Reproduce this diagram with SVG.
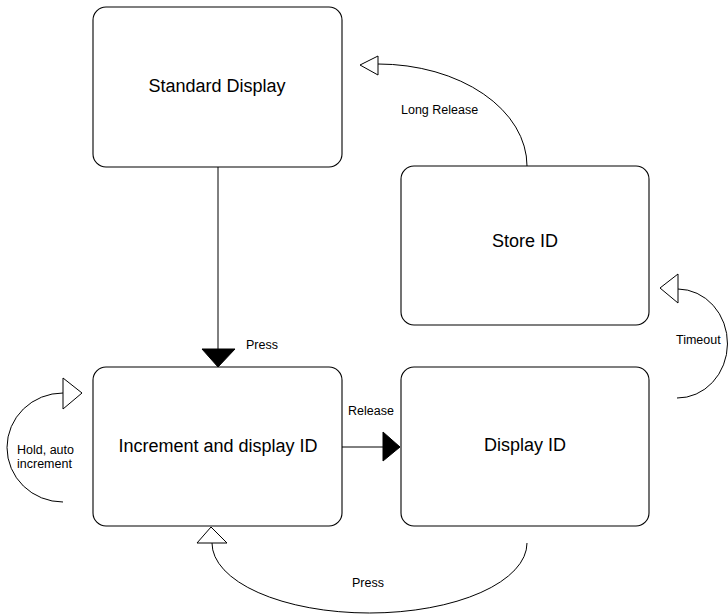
<svg xmlns="http://www.w3.org/2000/svg" width="728" height="616" viewBox="0 0 728 616">
<style>
.box{fill:#fff;stroke:#000;stroke-width:1.1}
.big{font-family:"Liberation Sans",Arial,sans-serif;font-size:18px;fill:#000;text-anchor:middle}
.lbl{font-family:"Liberation Sans",Arial,sans-serif;font-size:12.5px;fill:#000}
.ln{fill:none;stroke:#000;stroke-width:1}
.open{fill:#fff;stroke:#000;stroke-width:1}
.solid{fill:#000;stroke:#000;stroke-width:1}
</style>
<rect width="728" height="616" fill="#fff"/>
<g id="standard-display">
<rect class="box" x="93" y="7" width="249" height="160" rx="13"/>
<text class="big" x="217" y="92">Standard Display</text>
</g>
<g id="store-id">
<rect class="box" x="401" y="166" width="248" height="159" rx="13"/>
<text class="big" x="525" y="247">Store ID</text>
</g>
<g id="increment">
<rect class="box" x="93" y="367" width="249" height="159" rx="13"/>
<text class="big" x="218" y="452">Increment and display ID</text>
</g>
<g id="display-id">
<rect class="box" x="401" y="367" width="248" height="159" rx="13"/>
<text class="big" x="525" y="451">Display ID</text>
</g>
<g id="connectors">
<line class="ln" x1="218" y1="167" x2="218" y2="349"/>
<polygon class="solid" points="202,349 235,349 218,367"/>
<text class="lbl" x="246" y="349">Press</text>
<line class="ln" x1="342" y1="447" x2="383" y2="447"/>
<polygon class="solid" points="383,432 383,461 400,447"/>
<text class="lbl" x="348" y="415">Release</text>
<path class="ln" d="M527,166 A149,102 0 0 0 378,64"/>
<polygon class="open" points="360,65 378,56 378,75"/>
<text class="lbl" x="401" y="114">Long Release</text>
<path class="ln" d="M677,398 A50,54.5 0 0 0 678,289"/>
<polygon class="open" points="660,288 678,274 678,303"/>
<text class="lbl" x="676" y="344">Timeout</text>
<path class="ln" d="M63,393 A56,54.5 0 0 0 63,502"/>
<polygon class="open" points="82,393 63,378 63,409"/>
<text class="lbl" x="17" y="454">Hold, auto</text>
<text class="lbl" x="17" y="468">increment</text>
<path class="ln" d="M212,543 A157.5,70 0 0 0 527,543"/>
<polygon class="open" points="211,527 197,543 227,543"/>
<text class="lbl" x="352" y="587">Press</text>
</g>
</svg>
